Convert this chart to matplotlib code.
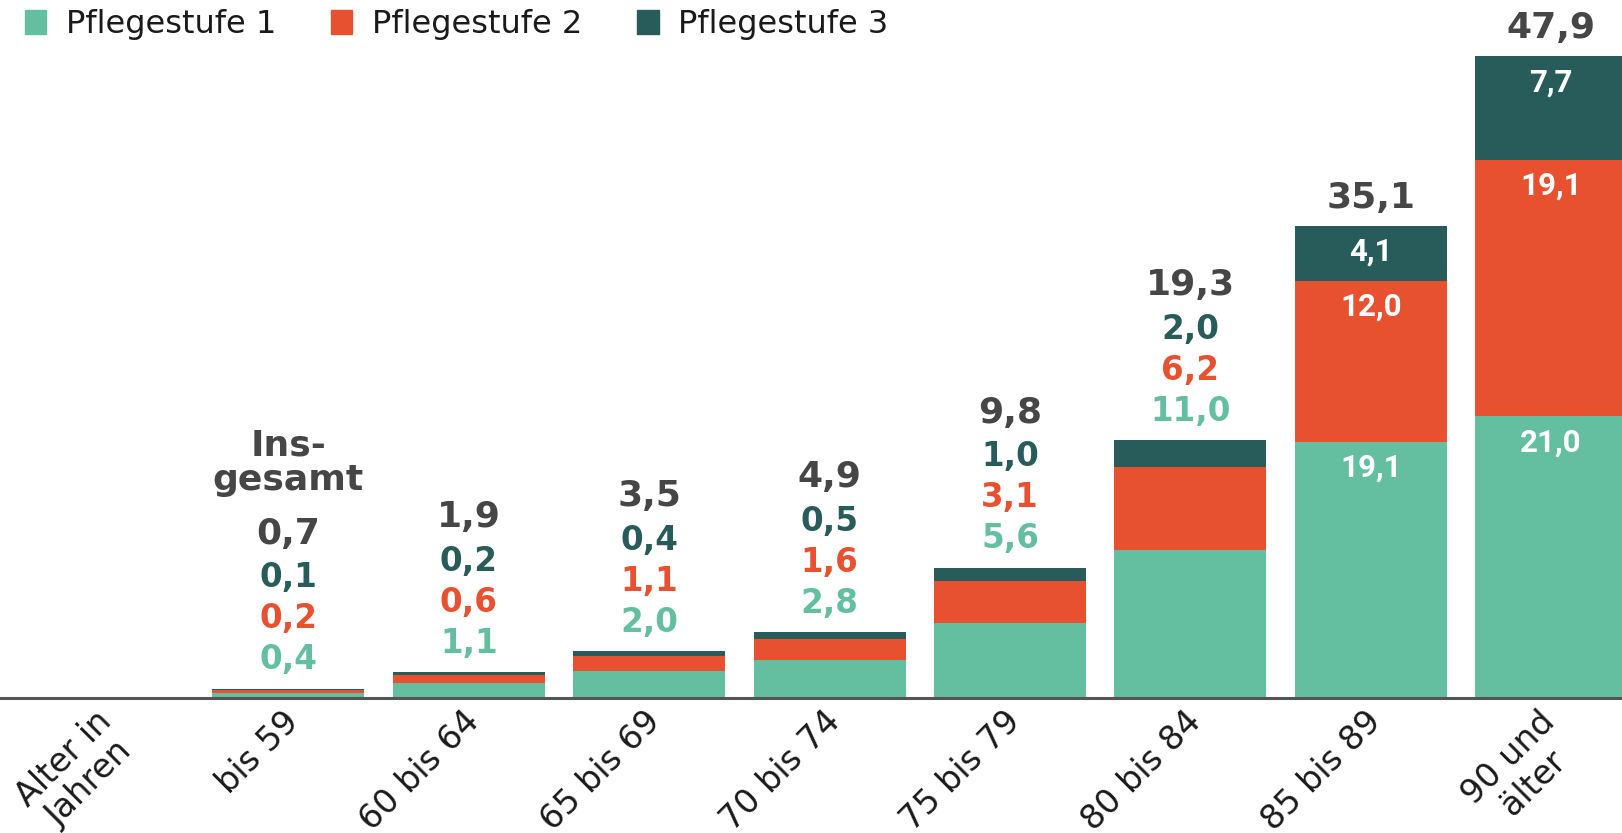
import numpy as np
import matplotlib
matplotlib.use("Agg")
import matplotlib.pyplot as plt
from matplotlib.patches import Patch
from matplotlib.transforms import ScaledTranslation

# data (Pflegequote in %, nach Alter)
categories = ["Alter in\nJahren", "bis 59", "60 bis 64", "65 bis 69", "70 bis 74",
              "75 bis 79", "80 bis 84", "85 bis 89", "90 und\nälter"]
stufe1 = [0.4, 1.1, 2.0, 2.8, 5.6, 11.0, 19.1, 21.0]
stufe2 = [0.2, 0.6, 1.1, 1.6, 3.1, 6.2, 12.0, 19.1]
stufe3 = [0.1, 0.2, 0.4, 0.5, 1.0, 2.0, 4.1, 7.7]
totals = [0.7, 1.9, 3.5, 4.9, 9.8, 19.3, 35.1, 47.9]
series_names = ["Pflegestufe 1", "Pflegestufe 2", "Pflegestufe 3"]

C1, C2, C3 = "#63bfa0", "#e85130", "#285c5a"
GREY = "#464646"

def fmt(v):
    return f"{v:.1f}".replace(".", ",")

fig = plt.figure(figsize=(16.22, 8.33), dpi=100)
ax = fig.add_axes([0, 135 / 833, 1, 698 / 833])

x = np.arange(1, len(categories))
s1 = np.array(stufe1)
s2 = np.array(stufe2)
s3 = np.array(stufe3)
w = 0.843
ax.bar(x, s1, w, color=C1)
ax.bar(x, s2, w, bottom=s1, color=C2)
ax.bar(x, s3, w, bottom=s1 + s2, color=C3)

ax.set_xlim(-0.599, 8.393)
ax.set_ylim(0, 52.0)
for sp in ["top", "left", "right"]:
    ax.spines[sp].set_visible(False)
ax.spines["bottom"].set_color("#555555")
ax.spines["bottom"].set_linewidth(2.2)
ax.set_yticks([])

# tick labels
ax.set_xticks(np.arange(len(categories)))
ax.set_xticklabels(categories, rotation=45, ha="right", va="top",
                   rotation_mode="anchor", fontsize=24, family="DejaVu Sans",
                   color="#1a1a1a", multialignment="center", linespacing=1.1)
ax.tick_params(axis="x", length=0, pad=5)
for i, lab in enumerate(ax.get_xticklabels()):
    dx = -0.06 if "\n" not in categories[i] else -0.13
    lab.set_transform(lab.get_transform() + ScaledTranslation(dx, 0, fig.dpi_scale_trans))

PX = 0.72  # px -> pt at dpi 100
small = 6
for i in range(len(totals)):
    xi = x[i]
    top = s1[i] + s2[i] + s3[i]
    if i < small:
        offs = [29, 29 + 41, 29 + 82]
        for off, val, col in zip(offs, [stufe1[i], stufe2[i], stufe3[i]], [C1, C2, C3]):
            ax.annotate(fmt(val), (xi, top), xytext=(0, off * PX), textcoords="offset points",
                        ha="center", va="center", fontsize=23.5, fontweight="bold",
                        color=col, family="DejaVu Sans")
        toff = 29 + 82 + 44
        ax.annotate(fmt(totals[i]), (xi, top), xytext=(0, toff * PX), textcoords="offset points",
                    ha="center", va="center", fontsize=26, fontweight="bold",
                    color=GREY, family="DejaVu Sans")
        if i == 0:
            ax.annotate("Ins-\ngesamt", (xi, top), xytext=(0, (toff + 71) * PX),
                        textcoords="offset points", ha="center", va="center",
                        fontsize=26, fontweight="bold", color=GREY,
                        family="DejaVu Sans", linespacing=1.0)
    else:
        tops = [s1[i], s1[i] + s2[i], top]
        for t, val in zip(tops, [stufe1[i], stufe2[i], stufe3[i]]):
            ax.annotate(fmt(val), (xi, t), xytext=(0, -26 * PX), textcoords="offset points",
                        ha="center", va="center", fontsize=22.5, fontweight="bold",
                        color="white", family="Roboto")
        ax.annotate(fmt(totals[i]), (xi, top), xytext=(0, 28 * PX), textcoords="offset points",
                    ha="center", va="center", fontsize=26, fontweight="bold",
                    color=GREY, family="DejaVu Sans")

handles = [Patch(color=c) for c in (C1, C2, C3)]
fig.legend(handles, series_names, loc="upper left", bbox_to_anchor=(25 / 1622, 1 - 9 / 833),
           ncol=3, frameon=False, prop={"family": "DejaVu Sans", "size": 23},
           handlelength=0.66, handleheight=0.75, handletextpad=0.62, columnspacing=1.72,
           borderpad=0, borderaxespad=0, labelcolor="#1a1a1a")

fig.savefig("out.png", dpi=100)
